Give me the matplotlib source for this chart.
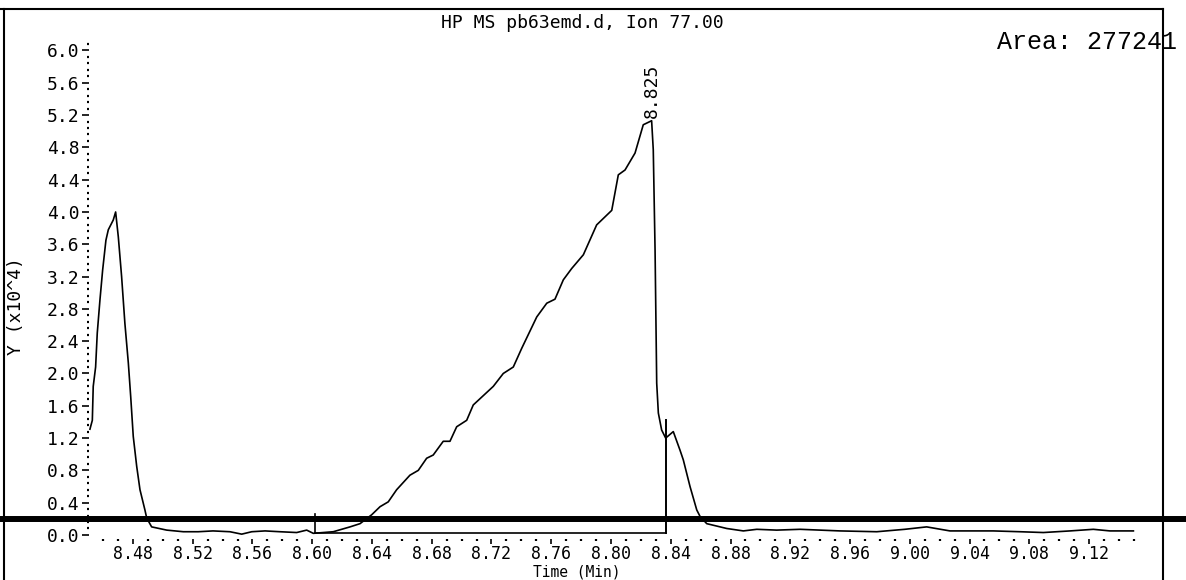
import matplotlib
matplotlib.use('Agg')
from matplotlib import pyplot as plt
from matplotlib.lines import Line2D
from matplotlib.ticker import MultipleLocator, FormatStrFormatter

# Ion 77.00 trace, time in minutes, abundance in units of 10^4
time_min = [
    8.4512, 8.4528, 8.4534, 8.4550, 8.4561, 8.4579, 8.4597, 8.4619, 8.4635, 8.4668,
    8.4684, 8.4702, 8.4724, 8.4746, 8.4769, 8.4785, 8.4802, 8.4825, 8.4847, 8.4880,
    8.4892, 8.4925, 8.5026, 8.5137, 8.5237, 8.5336, 8.5449, 8.5528, 8.5595, 8.5684,
    8.5784, 8.5896, 8.5963, 8.6007, 8.6141, 8.6253, 8.6320, 8.6398, 8.6454, 8.6509,
    8.6565, 8.6654, 8.6710, 8.6766, 8.6810, 8.6877, 8.6922, 8.6967, 8.7034, 8.7078,
    8.7212, 8.7279, 8.7346, 8.7402, 8.7503, 8.7570, 8.7625, 8.7681, 8.7737, 8.7815,
    8.7904, 8.8005, 8.8049, 8.8094, 8.8161, 8.8216, 8.8272, 8.8283, 8.8295, 8.8306,
    8.8317, 8.8339, 8.8366, 8.8417, 8.8462, 8.8484, 8.8529, 8.8574, 8.8596, 8.8641,
    8.8775, 8.8886, 8.8976, 8.9109, 8.9266, 8.9533, 8.9779, 8.9967, 9.0113, 9.0269,
    9.0559, 9.0738, 9.0894, 9.1073, 9.1229, 9.1340, 9.1497,
]
abundance = [
    1.31, 1.42, 1.84, 2.08, 2.50, 2.91, 3.28, 3.65, 3.78, 3.90,
    4.00, 3.69, 3.20, 2.62, 2.13, 1.71, 1.22, 0.85, 0.56, 0.31,
    0.21, 0.10, 0.06, 0.04, 0.04, 0.05, 0.04, 0.01, 0.04, 0.05,
    0.04, 0.03, 0.06, 0.02, 0.04, 0.10, 0.14, 0.25, 0.35, 0.41,
    0.56, 0.74, 0.80, 0.95, 0.99, 1.16, 1.16, 1.34, 1.42, 1.61,
    1.84, 2.00, 2.08, 2.31, 2.70, 2.87, 2.92, 3.16, 3.30, 3.47,
    3.84, 4.02, 4.46, 4.52, 4.73, 5.08, 5.13, 4.77, 3.53, 1.88,
    1.51, 1.30, 1.20, 1.28, 1.05, 0.93, 0.60, 0.31, 0.23, 0.14,
    0.08, 0.05, 0.07, 0.06, 0.07, 0.05, 0.04, 0.07, 0.10, 0.05,
    0.05, 0.04, 0.03, 0.05, 0.07, 0.05, 0.05,
]

# integration markers
peak_start = 8.6018
peak_end = 8.8366
baseline_level = 0.03
start_marker_top = 0.26
end_marker_top = 1.42
peak_label = '8.825'
area_text = 'Area: 277241'
title_text = 'HP MS pb63emd.d, Ion 77.00'

MONO = 'DejaVu Sans Mono'
FS = 13

fig = plt.figure(figsize=(11.86, 5.8), dpi=100)
ax = fig.add_axes([0.0747, 0.0707, 0.8851, 0.8534])

ax.plot(time_min, abundance, color='black', linewidth=1.2)

# baseline and start / end markers
ax.plot([peak_start, peak_end], [baseline_level, baseline_level], color='black', linewidth=1.2)
ax.plot([peak_start, peak_start], [0.02, start_marker_top], color='black', linewidth=1.2)
ax.plot([peak_end, peak_end], [0.02, end_marker_top], color='black', linewidth=1.4)

i_max = abundance.index(max(abundance))
ax.text(time_min[i_max], abundance[i_max] + 0.04, peak_label, rotation=90,
        ha='center', va='bottom', family=MONO, fontsize=FS)

ax.set_xlim(8.4503, 9.153)
ax.set_ylim(-0.05, 6.08)

ax.xaxis.set_major_locator(MultipleLocator(0.04))
ax.xaxis.set_minor_locator(MultipleLocator(0.01))
ax.xaxis.set_major_formatter(FormatStrFormatter('%.2f'))
ax.yaxis.set_major_locator(MultipleLocator(0.4))
ax.yaxis.set_minor_locator(MultipleLocator(0.08))
ax.yaxis.set_major_formatter(FormatStrFormatter('%.1f'))

for s in ax.spines.values():
    s.set_visible(False)

ax.tick_params(axis='y', which='major', direction='out', length=5, width=1.2,
               pad=1.5, labelsize=FS, color='black')
ax.tick_params(axis='x', which='major', direction='out', length=3.5, width=1.2,
               pad=0.5, labelsize=12, color='black')
ax.tick_params(axis='both', which='minor', direction='out', length=1.5, width=1.6, color='black')
for lbl in ax.get_xticklabels() + ax.get_yticklabels():
    lbl.set_family(MONO)

fig.text(577 / 1186, 0.5 / 580, 'Time (Min)', ha='center', va='bottom', family=MONO, fontsize=10.5)
fig.text(16 / 1186, 1 - 306 / 580, 'Y (x10^4)', rotation=90, ha='center', va='center',
         family=MONO, fontsize=FS)
fig.text(582 / 1186, 1 - 22.5 / 580, title_text, ha='center', va='center', family=MONO, fontsize=FS)
fig.text(997 / 1186, 1 - 42 / 580, area_text, ha='left', va='center',
         family='Liberation Mono', fontsize=18)

# outer frame and the heavy horizontal rule across the page
fig.add_artist(Line2D([0, 0.9806], [0.984, 0.984], color='black', linewidth=1.5))
fig.add_artist(Line2D([0.0034, 0.0034], [0.984, 0], color='black', linewidth=1.5))
fig.add_artist(Line2D([0.9802, 0.9802], [0.984, 0], color='black', linewidth=1.5))
fig.add_artist(Line2D([0, 1], [1 - 518.5 / 580] * 2, color='black', linewidth=4.3))

fig.savefig('out.png', dpi=100)
